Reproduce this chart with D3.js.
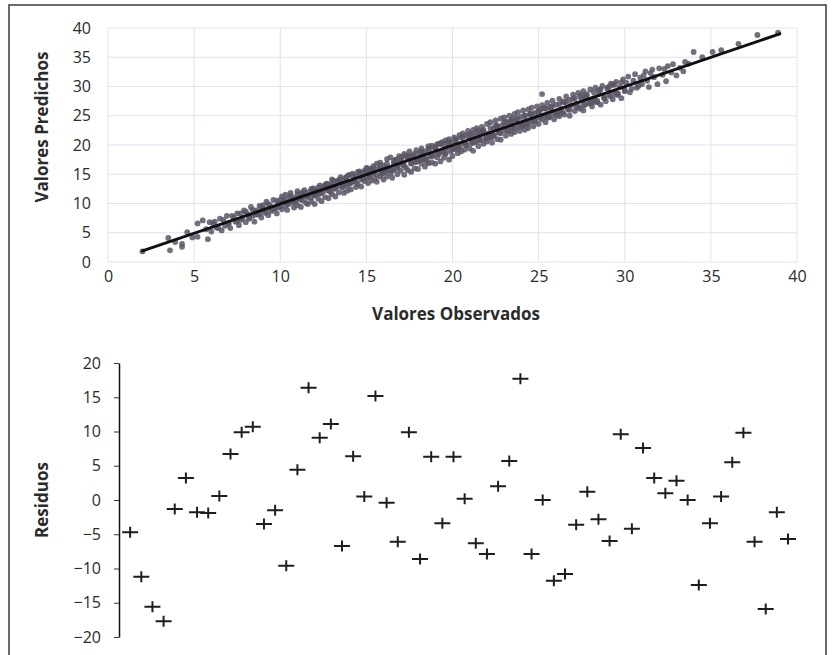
<!DOCTYPE html>
<html>
<head>
<meta charset="utf-8">
<script src="https://cdn.jsdelivr.net/npm/d3@7"></script>
<style>
  html, body { margin: 0; padding: 0; background: #ffffff; }
  svg { display: block; }
  text { font-family: "Open Sans", "Noto Sans", sans-serif; }
</style>
</head>
<body>
<svg id="chart" width="833" height="655"></svg>
<script>
// ---------- DATA ----------
const observados = [
  2.0,3.5,3.6,3.9,4.3,4.3,4.6,4.9,5.2,5.2,5.5,5.8,5.7,5.9,6.0,
  6.2,6.3,6.5,6.6,6.8,6.9,7.0,7.1,7.3,7.4,7.5,7.6,7.8,7.9,8.0,8.1,8.2,8.3,8.4,8.5,8.6,8.7,8.8,8.9,9.0,9.1,9.2,9.3,9.4,9.5,9.6,9.7,9.8,9.9,10.0,
  10.1,10.1,10.2,10.3,10.3,10.4,10.5,10.5,10.6,10.7,10.8,10.8,10.9,11.0,11.0,11.1,11.2,11.2,11.3,11.4,
  11.5,11.5,11.6,11.7,11.8,11.8,11.9,12.0,12.0,12.1,12.2,12.3,12.3,12.4,12.5,12.5,12.6,12.7,12.8,12.8,
  12.9,13.0,13.0,13.1,13.2,13.3,13.3,13.4,13.5,13.6,13.6,13.7,13.8,13.9,13.9,14.0,14.1,14.1,14.2,14.3,
  14.4,14.4,14.5,14.6,14.7,14.7,14.8,14.9,15.0,15.0,
  15.1,15.2,15.2,15.3,15.4,15.4,15.5,15.6,15.6,15.7,15.8,15.8,15.9,16.0,16.0,16.1,16.2,16.2,16.3,16.4,
  16.4,16.5,16.6,16.6,16.7,16.8,16.8,16.9,17.0,17.0,17.1,17.2,17.2,17.3,17.4,17.4,17.5,17.6,17.6,17.7,
  17.8,17.8,17.9,18.0,18.0,18.1,18.2,18.2,18.3,18.4,18.4,18.5,18.6,18.6,18.7,18.8,18.8,18.9,19.0,19.0,
  19.1,19.2,19.2,19.3,19.4,19.4,19.5,19.6,19.6,19.7,19.8,19.8,19.9,20.0,20.0,
  20.1,20.2,20.2,20.3,20.4,20.4,20.5,20.6,20.6,20.7,20.8,20.8,20.9,21.0,21.0,21.1,21.2,21.2,21.3,21.4,
  21.4,21.5,21.6,21.6,21.7,21.8,21.8,21.9,22.0,22.0,22.1,22.2,22.2,22.3,22.4,22.4,22.5,22.6,22.6,22.7,
  22.8,22.8,22.9,23.0,23.0,23.1,23.2,23.2,23.3,23.4,23.4,23.5,23.6,23.6,23.7,23.8,23.8,23.9,24.0,24.0,
  24.1,24.2,24.2,24.3,24.4,24.4,24.5,24.6,24.6,24.7,24.8,24.8,24.9,25.0,25.0,25.2,
  25.1,25.2,25.3,25.4,25.4,25.5,25.6,25.7,25.8,25.8,25.9,26.0,26.1,26.2,26.2,26.3,26.4,26.5,26.6,26.7,
  26.8,26.8,26.9,27.0,27.1,27.2,27.3,27.4,27.5,27.6,27.6,27.7,27.8,27.9,28.0,28.1,28.2,28.3,28.4,28.5,
  28.6,28.7,28.8,28.9,29.0,29.1,29.2,29.3,29.4,29.5,29.6,29.7,29.8,29.9,30.0,
  30.1,30.2,30.3,30.5,30.6,30.7,30.9,31.0,31.2,31.3,31.4,31.6,31.7,31.9,32.0,32.2,32.4,32.5,32.7,32.8,
  33.0,33.2,33.4,33.5,33.7,
  34.0,34.5,35.1,35.6,36.6,37.7,38.9,
  6.1,6.4,6.7,7.0,7.2,7.5,7.7,8.0,8.2,8.4,8.6,8.8,9.0,9.2,9.3,9.5,9.6,9.8,9.9,10.0,
  10.2,10.4,10.6,10.8,11.0,11.2,11.4,11.6,11.8,12.0,12.2,12.4,12.6,12.8,13.0,13.2,13.4,13.6,13.8,14.0,
  14.2,14.4,14.6,14.8,15.0,15.2,15.4,15.6,15.8,16.0,16.2,16.4,16.6,16.8,17.0,17.2,17.4,17.6,17.8,18.0,
  18.2,18.4,18.6,18.8,19.0,19.2,19.4,19.6,19.8,20.0,20.2,20.4,20.6,20.8,21.0,21.2,21.4,21.6,21.8,22.0,
  22.2,22.4,22.6,22.8,23.0,23.2,23.4,23.6,23.8,24.0,24.2,24.4,24.6,24.8,25.0,25.2,25.4,25.6,25.8,26.0,
  26.2,26.4,26.6,26.8,27.0,27.2,27.4,27.6,27.8,28.0,28.2,28.4,28.6,28.8,29.0,29.2,29.4,29.6,29.8,30.0,
  12.1,13.1,14.1,15.1,16.1,17.1,18.1,19.1,20.1,21.1,22.1,23.1,24.1,25.1,26.1,27.1,28.1,29.1,30.4,31.1,
  11.3,12.7,13.7,14.9,15.9,16.7,17.9,18.7,19.5,20.5,21.3,22.5,23.3,24.5,25.5,26.5,27.3,28.5,29.5,31.5,
  10.9,12.9,13.9,14.5,16.5,17.3,18.5,19.3,20.3,21.5,22.3,23.5,24.3,25.3,26.3,27.5,28.3,29.3,30.8,32.3,
  7.7,8.9,9.7,11.9,12.3,13.5,14.3,15.3,16.3,17.5,18.3,19.7,20.7,21.7,22.7,23.7,24.7,25.7,26.7,27.7
];
const predichos = [
  1.8,4.1,2.0,3.4,2.6,3.1,5.1,4.2,4.3,6.6,7.1,3.9,5.6,6.8,5.2,
  6.9,5.9,7.4,5.4,6.2,7.9,6.6,5.8,7.6,6.9,8.3,6.3,7.5,8.8,6.8,8.2,7.4,9.4,7.9,6.9,8.8,8.1,9.6,7.6,9.1,8.4,10.3,8.0,9.7,8.7,10.6,9.2,8.3,10.1,9.4,
  11.2,9.0,10.4,9.6,11.5,8.9,10.9,9.9,11.8,10.2,9.3,11.0,10.6,12.1,9.7,10.9,9.4,11.6,10.5,12.3,
  10.1,11.2,9.9,12.0,11.0,10.3,12.6,11.4,9.9,12.2,10.8,13.1,11.7,10.4,12.9,12.1,11.1,13.4,12.3,10.9,
  13.0,11.6,14.1,12.5,11.2,13.8,12.9,11.9,14.5,12.7,13.4,11.8,14.2,13.1,12.2,14.9,13.6,12.4,15.1,13.9,
  12.8,14.6,13.3,15.5,14.1,12.9,15.2,13.8,14.4,16.1,
  13.5,15.7,14.9,13.9,16.4,15.1,14.2,16.8,13.7,15.9,14.6,17.0,15.3,14.1,16.5,15.7,17.6,14.6,16.0,15.2,
  17.9,14.4,16.9,15.8,17.5,15.0,16.4,18.1,15.6,17.2,16.6,14.9,18.5,16.1,17.6,15.7,18.9,16.8,15.4,18.2,
  17.1,16.0,19.1,17.5,15.9,18.6,16.8,19.4,17.6,16.3,18.9,17.2,19.8,16.9,18.1,17.0,19.9,18.4,16.8,19.5,
  17.9,20.2,18.6,17.2,20.5,19.0,17.8,20.8,18.4,19.6,17.5,21.0,18.9,20.4,18.1,
  21.3,19.4,20.9,18.6,21.7,19.9,18.9,22.0,20.4,19.2,21.6,20.0,22.4,19.4,21.1,20.3,22.6,19.0,21.5,20.6,
  22.9,19.8,21.9,20.9,23.1,20.2,22.3,21.1,23.6,20.6,22.0,21.3,23.9,20.4,22.8,21.7,24.2,21.0,23.1,22.2,
  24.5,20.9,23.4,22.5,24.7,21.6,23.8,22.7,25.0,21.9,24.1,22.9,25.3,22.2,24.4,23.1,25.6,22.4,24.8,23.5,
  25.9,22.6,25.0,23.8,26.1,22.9,25.2,24.1,26.4,23.2,25.5,24.4,26.6,23.6,25.7,28.7,
  24.6,26.8,25.0,23.9,26.2,27.2,24.7,26.5,25.3,27.6,24.4,26.9,25.7,27.9,24.9,26.1,27.4,25.2,28.3,26.4,
  25.0,27.7,26.8,28.6,25.8,27.1,28.9,26.2,27.8,25.9,29.2,26.9,28.3,27.1,29.5,26.6,28.0,29.8,27.3,28.9,
  26.9,30.1,28.2,27.5,29.6,28.4,30.5,27.8,29.1,30.8,28.6,29.9,28.0,31.2,29.4,
  30.6,31.7,29.0,31.0,32.1,29.8,31.5,30.4,32.6,31.0,29.9,32.9,31.6,30.4,33.1,32.0,30.9,33.5,32.4,33.8,
  31.9,33.2,32.6,34.2,33.9,
  35.9,35.0,35.9,36.2,37.3,38.8,39.2,
  6.6,5.8,7.2,6.5,7.9,7.0,7.2,8.6,7.6,8.9,8.1,8.3,9.7,8.6,9.9,9.0,9.1,10.5,9.4,10.6,
  10.8,10.0,11.3,10.3,11.6,10.7,11.9,11.1,12.5,11.4,12.7,11.8,13.2,12.2,13.5,12.6,14.0,13.0,14.4,13.4,
  14.8,13.7,15.2,14.2,15.7,14.5,16.0,14.9,16.5,15.3,16.8,15.7,17.3,16.0,17.7,16.5,18.1,16.9,18.5,17.3,
  18.9,17.6,19.3,18.0,19.7,18.4,20.1,18.8,20.6,19.3,20.9,19.6,21.4,20.0,21.8,20.4,22.2,20.8,22.6,21.2,
  22.9,21.6,23.3,22.0,23.8,22.4,24.2,22.8,24.6,23.2,25.0,23.6,25.4,24.0,25.8,24.4,26.3,24.8,26.7,25.2,
  27.0,25.6,27.4,26.0,27.9,26.4,28.3,26.8,28.7,27.2,29.0,27.6,29.5,28.0,29.8,28.4,30.3,28.8,30.7,29.2,
  11.6,13.9,13.5,16.0,15.4,18.0,17.4,20.1,19.3,22.0,21.3,24.0,23.3,26.0,25.3,28.0,27.3,30.0,29.6,31.9,
  11.9,13.3,13.1,15.6,15.1,17.4,17.1,19.5,18.7,21.3,20.5,23.3,22.5,25.3,24.7,27.3,26.5,29.4,28.6,32.3,
  10.3,12.0,14.7,15.4,15.6,18.2,17.6,20.3,19.4,22.5,21.4,24.5,23.4,26.3,25.4,28.5,27.4,30.3,30.1,33.0,
  8.3,9.4,9.1,12.5,11.8,14.1,13.8,15.9,15.7,18.1,17.8,20.3,20.2,22.3,22.1,24.3,24.1,26.3,26.1,28.3
];
// Regression line end points
const rectaX = [2.0, 39.0];
const rectaY = [1.9, 39.0];
const ticksTop = [0, 5, 10, 15, 20, 25, 30, 35, 40];

// Bottom chart: residuals, one per observation index
const residuos = [
  -4.7,-11.2,-15.6,-17.7,-1.3,3.2,-1.8,-1.9,0.6,6.7,
  9.9,10.7,-3.5,-1.5,-9.6,4.4,16.4,9.1,11.1,-6.7,
  6.4,0.5,15.2,-0.4,-6.1,9.9,-8.6,6.3,-3.4,6.3,
  0.2,-6.3,-7.9,2.0,5.7,17.7,-7.9,0.0,-11.8,-10.8,
  -3.6,1.2,-2.8,-6.0,9.6,-4.2,7.6,3.2,1.0,2.8,
  0.0,-12.4,-3.4,0.5,5.5,9.8,-6.1,-15.9,-1.8,-5.7
];
const ticksRes = [20, 15, 10, 5, 0, -5, -10, -15, -20];

const tituloX = "Valores Observados";
const tituloY = "Valores Predichos";
const tituloRes = "Residuos";

// ---------- DRAW ----------
const svg = d3.select("#chart");

// outer frame
svg.append("rect")
  .attr("x", 9).attr("y", 5).attr("width", 817).attr("height", 660)
  .attr("fill", "#ffffff").attr("stroke", "#3a3a3a").attr("stroke-width", 1.5);

// ----- top chart -----
const tp = { left: 108, right: 797, top: 28, bottom: 262 };
const x1 = d3.scaleLinear().domain([0, 40]).range([tp.left, tp.right]);
const y1 = d3.scaleLinear().domain([0, 40]).range([tp.bottom, tp.top]);

const gTop = svg.append("g");

// grid
gTop.append("g").selectAll("line.v").data(ticksTop).join("line")
  .attr("x1", d => x1(d)).attr("x2", d => x1(d))
  .attr("y1", tp.top).attr("y2", tp.bottom)
  .attr("stroke", "#dde3ee").attr("stroke-width", 1);
gTop.append("g").selectAll("line.h").data(ticksTop).join("line")
  .attr("x1", tp.left).attr("x2", tp.right)
  .attr("y1", d => y1(d)).attr("y2", d => y1(d))
  .attr("stroke", "#dde3ee").attr("stroke-width", 1);

// axes (labels only)
const axX = gTop.append("g").attr("transform", `translate(0,${tp.bottom})`)
  .call(d3.axisBottom(x1).tickValues(ticksTop).tickSize(0).tickPadding(9));
const axY = gTop.append("g").attr("transform", `translate(${tp.left},0)`)
  .call(d3.axisLeft(y1).tickValues(ticksTop).tickSize(0).tickPadding(17));
[axX, axY].forEach(a => {
  a.select(".domain").remove();
  a.selectAll("text").attr("font-size", 16).attr("fill", "#2b2b2b")
    .style("font-family", "'Open Sans', sans-serif");
});

// points
const pts = observados.map((o, i) => [o, predichos[i]]);
gTop.append("g").selectAll("circle").data(pts).join("circle")
  .attr("cx", d => x1(d[0])).attr("cy", d => y1(d[1]))
  .attr("r", 2.9)
  .attr("fill", "#5c5666").attr("fill-opacity", 0.85);

// regression line
gTop.append("line")
  .attr("x1", x1(rectaX[0])).attr("y1", y1(rectaY[0]))
  .attr("x2", x1(rectaX[1])).attr("y2", y1(rectaY[1]))
  .attr("stroke", "#111").attr("stroke-width", 3).attr("stroke-linecap", "round");

// titles
svg.append("text").attr("x", 456).attr("y", 320)
  .attr("text-anchor", "middle").attr("font-size", 17).attr("font-weight", "bold")
  .attr("fill", "#2b2b2b").text(tituloX);
svg.append("text").attr("transform", "translate(48,127) rotate(-90)")
  .attr("text-anchor", "middle").attr("font-size", 17).attr("font-weight", "bold")
  .attr("fill", "#2b2b2b").text(tituloY);

// ----- bottom chart -----
const bp = { left: 119, top: 363, bottom: 637 };
const x2 = d3.scaleLinear().domain([0, 60]).range([119, 788]);
const y2 = d3.scaleLinear().domain([-20, 20]).range([bp.bottom, bp.top]);

const axR = svg.append("g").attr("transform", `translate(${bp.left},0)`)
  .call(d3.axisLeft(y2).tickValues(ticksRes).tickSizeInner(5).tickSizeOuter(0).tickPadding(13));
axR.select(".domain").attr("stroke", "#111").attr("stroke-width", 1.5);
axR.selectAll(".tick line").attr("stroke", "#333");
axR.selectAll("text").attr("font-size", 16).attr("fill", "#2b2b2b")
  .style("font-family", "'Open Sans', sans-serif");

svg.append("text").attr("transform", "translate(48,500) rotate(-90)")
  .attr("text-anchor", "middle").attr("font-size", 17).attr("font-weight", "bold")
  .attr("fill", "#2b2b2b").text(tituloRes);

svg.append("g").selectAll("path").data(residuos).join("path")
  .attr("d", (d, i) => {
    const cx = x2(i + 1), cy = y2(d);
    return `M${cx - 8},${cy}H${cx + 8}M${cx},${cy - 5.5}V${cy + 5.5}`;
  })
  .attr("stroke", "#1e1e1e").attr("stroke-width", 2).attr("fill", "none");
</script>
</body>
</html>
